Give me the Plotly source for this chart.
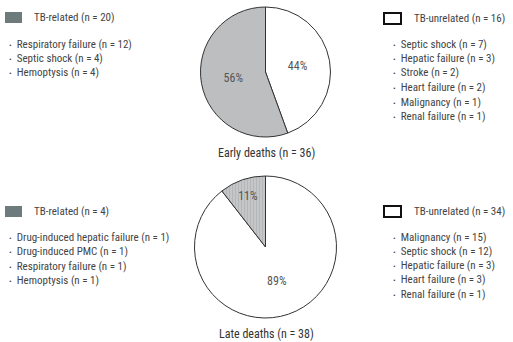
import plotly.graph_objects as go

W, H = 513, 342

groups = ["TB-unrelated", "TB-related"]
early_values = [16, 20]
late_values = [34, 4]
early_title = "Early deaths (n = 36)"
late_title = "Late deaths (n = 38)"

early_related_label = "TB-related (n = 20)"
early_related_items = ["Respiratory failure (n = 12)", "Septic shock (n = 4)", "Hemoptysis (n = 4)"]
early_unrelated_label = "TB-unrelated (n = 16)"
early_unrelated_items = ["Septic shock (n = 7)", "Hepatic failure (n = 3)", "Stroke (n = 2)",
                         "Heart failure (n = 2)", "Malignancy (n = 1)", "Renal failure (n = 1)"]
late_related_label = "TB-related (n = 4)"
late_related_items = ["Drug-induced hepatic failure (n = 1)", "Drug-induced PMC (n = 1)",
                      "Respiratory failure (n = 1)", "Hemoptysis (n = 1)"]
late_unrelated_label = "TB-unrelated (n = 34)"
late_unrelated_items = ["Malignancy (n = 15)", "Septic shock (n = 12)", "Hepatic failure (n = 3)",
                        "Heart failure (n = 3)", "Renal failure (n = 1)"]

FONT = "Liberation Sans Narrow, Roboto Condensed, Arial Narrow, Roboto, sans-serif"
TXT = "#444444"

def px(x):
    return x / W

def py(y):
    return 1 - y / H

fig = go.Figure()

fig.add_trace(go.Pie(
    values=early_values, labels=groups, sort=False, direction="clockwise", rotation=0,
    marker=dict(colors=["#ffffff", "#bcbec0"], line=dict(color="#333333", width=1)),
    texttemplate="%{percent:.0%}", textposition="inside", insidetextorientation="horizontal",
    textfont=dict(family=FONT, size=12, color="#555555"),
    domain=dict(x=[px(200.5), px(330.5)], y=[py(137), py(7)]),
    showlegend=False, hoverinfo="label+value+percent",
))
fig.add_trace(go.Pie(
    values=late_values, labels=groups, sort=False, direction="clockwise", rotation=0,
    marker=dict(colors=["#ffffff", "#c0c2c4"], line=dict(color="#333333", width=1),
                pattern=dict(shape=["", "|"], fgcolor="#b2b4b6", bgcolor=["#ffffff", "#c4c6c8"],
                             size=3, solidity=0.3, fillmode="replace")),
    texttemplate="%{percent:.0%}", textposition="inside", insidetextorientation="horizontal",
    textfont=dict(family=FONT, size=12, color="#555555"),
    domain=dict(x=[px(194.5), px(336.5)], y=[py(318), py(176)]),
    showlegend=False, hoverinfo="label+value+percent",
))

shapes = []
annotations = []

def legend_block(sq_x, sq_y, filled, label, label_x, items, bullet_x, y0, dy):
    shapes.append(dict(type="rect", xref="paper", yref="paper",
                       x0=px(sq_x), x1=px(sq_x + 17), y0=py(sq_y + 11), y1=py(sq_y),
                       fillcolor="#6e7b7c" if filled else "#ffffff",
                       line=dict(color="#6e7b7c" if filled else "#111111", width=0 if filled else 2)))
    annotations.append(dict(x=px(label_x), y=py(sq_y + 5.5), xref="paper", yref="paper",
                            text=label, showarrow=False, xanchor="left", yanchor="middle",
                            font=dict(family=FONT, size=11, color=TXT)))
    for i, it in enumerate(items):
        annotations.append(dict(x=px(bullet_x), y=py(y0 + i * dy), xref="paper", yref="paper",
                                text="<span style='font-size:8px'>•</span>  " + it,
                                showarrow=False, xanchor="left", yanchor="middle",
                                font=dict(family=FONT, size=11, color=TXT)))

legend_block(5, 12, True, early_related_label, 32, early_related_items, 7, 44, 14.3)
legend_block(384, 13, False, early_unrelated_label, 412, early_unrelated_items, 391, 44, 14.5)
legend_block(5, 206, True, late_related_label, 32, late_related_items, 7, 237, 14.5)
legend_block(384, 206, False, late_unrelated_label, 412, late_unrelated_items, 391, 237, 14.3)

annotations.append(dict(x=px(266), y=py(153), xref="paper", yref="paper", text=early_title,
                        showarrow=False, xanchor="center", yanchor="middle",
                        font=dict(family=FONT, size=12, color="#333333")))
annotations.append(dict(x=px(266), y=py(334), xref="paper", yref="paper", text=late_title,
                        showarrow=False, xanchor="center", yanchor="middle",
                        font=dict(family=FONT, size=12, color="#333333")))

fig.update_layout(
    width=W, height=H, margin=dict(l=0, r=0, t=0, b=0),
    paper_bgcolor="white", plot_bgcolor="white",
    shapes=shapes, annotations=annotations,
    font=dict(family=FONT),
)

fig.write_html("out.html")
